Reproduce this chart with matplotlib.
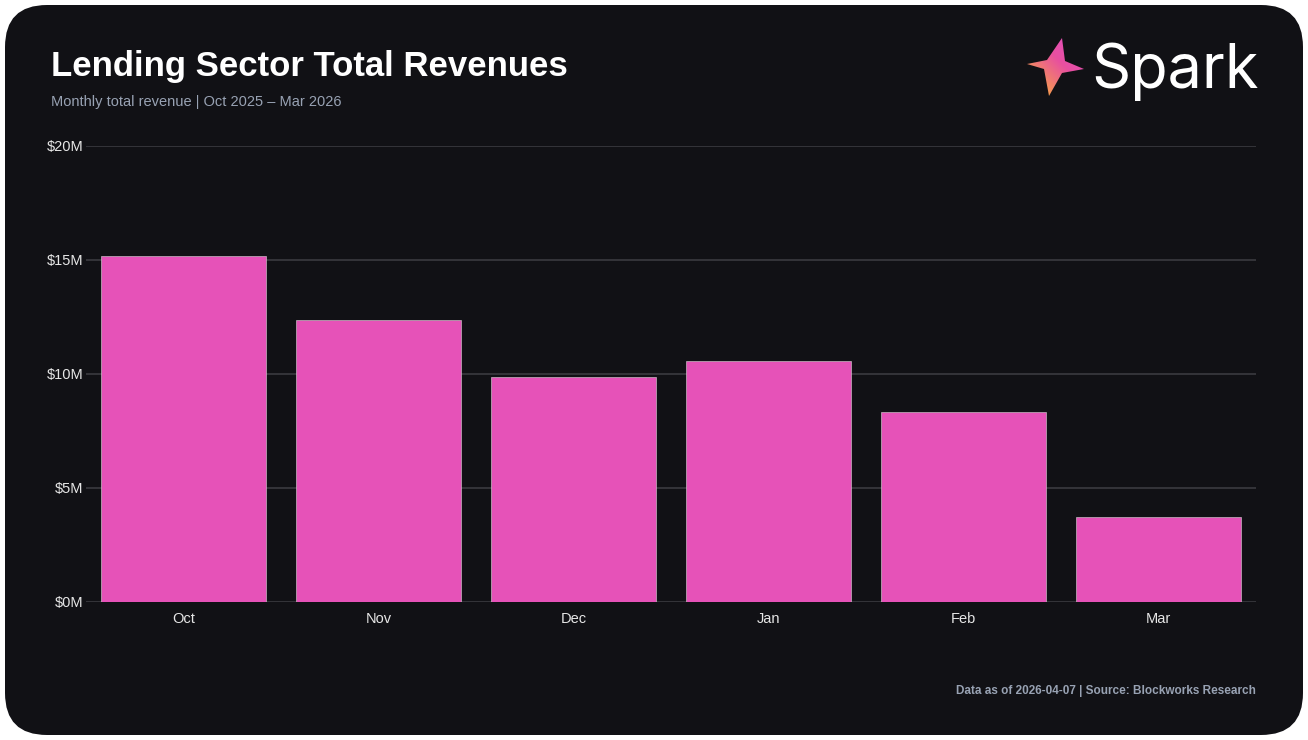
import numpy as np
import matplotlib
matplotlib.use("Agg")
import matplotlib.pyplot as plt
from matplotlib.patches import FancyBboxPatch, Polygon
from matplotlib.colors import LinearSegmentedColormap

# data (USD millions)
months = ["Oct", "Nov", "Dec", "Jan", "Feb", "Mar"]
revenue_m = [15.18, 12.38, 9.87, 10.57, 8.33, 3.73]
yticks = [0, 5, 10, 15, 20]
ytick_labels = ["$0M", "$5M", "$10M", "$15M", "$20M"]

W, H = 1308, 740
BG = "#111115"
PINK = "#e652b8"

fig = plt.figure(figsize=(W / 100, H / 100), dpi=100)
fig.patch.set_facecolor("white")

# rounded dark card (behind the axes)
card = FancyBboxPatch((0.05, 0.05), (W - 10) / 100, (H - 10) / 100,
                      boxstyle="round,pad=0,rounding_size=0.42",
                      transform=fig.dpi_scale_trans, facecolor=BG,
                      edgecolor="none", zorder=-5)
fig.patches.append(card)

def fx(px):
    return px / W

def fy(py):
    return 1 - py / H

# main axes: x 86..1256 px, y 146..602 px
ax = fig.add_axes([fx(86), fy(602), fx(1256) - fx(86), fy(146) - fy(602)])
ax.set_facecolor("none")
x = np.arange(len(months))
ax.bar(x, revenue_m, width=0.85, color=PINK, edgecolor="#d9d9d9",
       linewidth=0.4, zorder=3)
ax.set_xlim(-0.5, len(months) - 0.5)
ax.set_ylim(0, 20)
ax.set_yticks(yticks)
ax.set_yticklabels(ytick_labels)
ax.set_xticks(x)
ax.set_xticklabels(months)
ax.grid(axis="y", color="#3a3a40", linewidth=1.2, zorder=0)
ax.set_axisbelow(True)
for s in ax.spines.values():
    s.set_visible(False)
ax.tick_params(axis="both", length=0, colors="#e6e6e6", labelsize=10.5)
ax.tick_params(axis="y", pad=2)
ax.tick_params(axis="x", pad=7)
for lab in ax.get_xticklabels() + ax.get_yticklabels():
    lab.set_family("Liberation Sans")

# titles
fig.text(fx(51), fy(76), "Lending Sector Total Revenues", color="white",
         fontsize=25, fontweight="bold", family="Liberation Sans",
         va="baseline", ha="left")
fig.text(fx(51), fy(106), "Monthly total revenue | Oct 2025 \u2013 Mar 2026",
         color="#98a2b3", fontsize=10.5, family="Liberation Sans",
         va="baseline", ha="left")
fig.text(fx(1256), fy(694), "Data as of 2026-04-07 | Source: Blockworks Research",
         color="#98a2b3", fontsize=8.5, fontweight="bold",
         family="Liberation Sans", va="baseline", ha="right")

# logo: gradient star + wordmark
lax = fig.add_axes([fx(1020), fy(100), fx(1090) - fx(1020), fy(30) - fy(100)])
lax.set_xlim(1020, 1090)
lax.set_ylim(100, 30)
lax.axis("off")
star = [(1062, 38), (1065, 61), (1084, 69), (1062, 73), (1049, 96),
        (1044, 69), (1027, 64), (1047, 60)]
poly = Polygon(star, closed=True, facecolor="none", edgecolor="none")
lax.add_patch(poly)
# gradient from orange (lower left) to pink (upper right)
px, py = np.meshgrid(np.linspace(1020, 1090, 140), np.linspace(30, 100, 140))
grad = np.clip(((px - 1035) - (py - 90)) / 80, 0, 1)
cmap = LinearSegmentedColormap.from_list("spark", ["#f9a83f", "#f07a72", "#e8509f", "#e54fb6"])
im = lax.imshow(grad, extent=(1020, 1090, 100, 30), cmap=cmap,
                origin="upper", aspect="auto", vmin=0, vmax=1)
im.set_clip_path(poly)

fig.text(fx(1091), fy(88), "Spark", color="white", fontsize=44,
         family="Inter", va="baseline", ha="left")

fig.savefig("out.png", dpi=100, facecolor=fig.get_facecolor())
